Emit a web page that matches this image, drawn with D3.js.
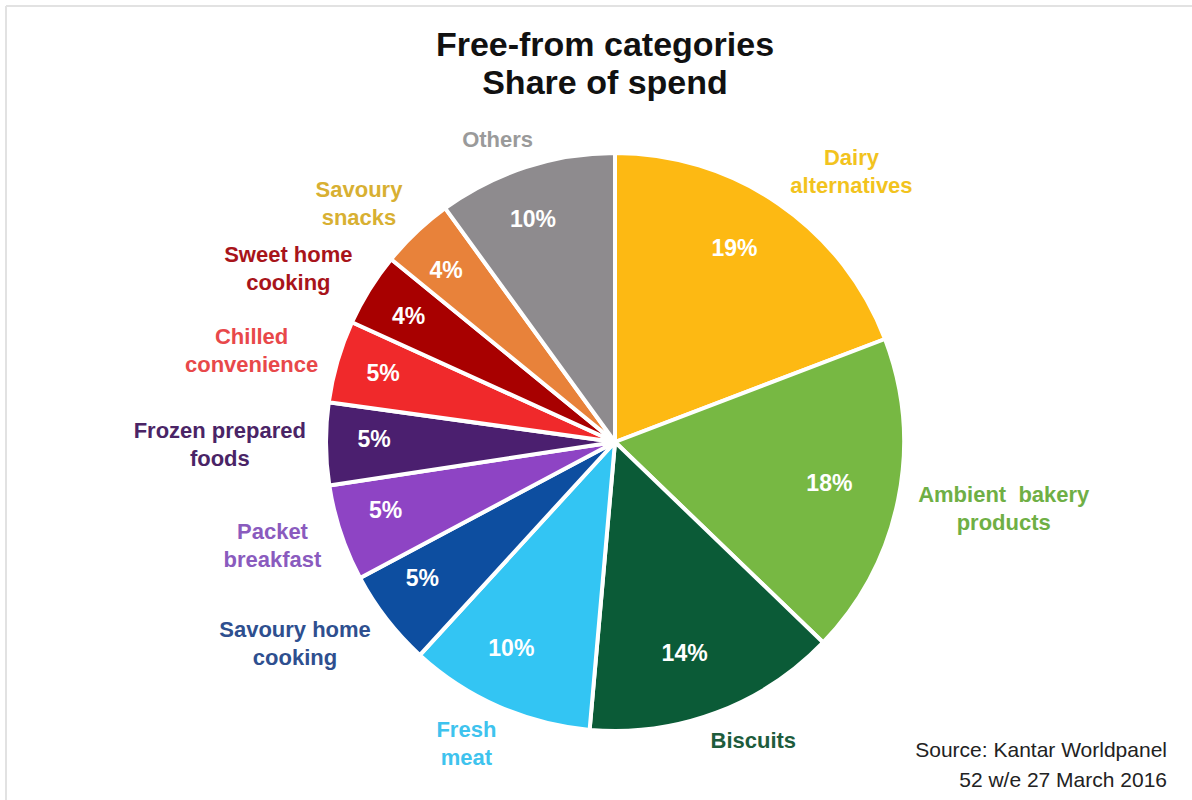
<!DOCTYPE html>
<html>
<head>
<meta charset="utf-8">
<script src="https://cdn.jsdelivr.net/npm/d3@7"></script>
<style>
  html, body { margin: 0; padding: 0; background: #fff; }
  svg { display: block; }
</style>
</head>
<body>
<svg id="chart" width="1192" height="800"></svg>
<script>
const categories = [
  ["Dairy", "alternatives"],
  ["Ambient  bakery", "products"],
  ["Biscuits"],
  ["Fresh", "meat"],
  ["Savoury home", "cooking"],
  ["Packet", "breakfast"],
  ["Frozen prepared", "foods"],
  ["Chilled", "convenience"],
  ["Sweet home", "cooking"],
  ["Savoury", "snacks"],
  ["Others"]
];
// underlying shares
const shares = [19.2, 18.0, 14.2, 10.4, 5.4, 5.4, 4.6, 4.6, 4.1, 4.1, 10.0];
// rounded percentages as printed on the slices
const pctLabels = [19, 18, 14, 10, 5, 5, 5, 5, 4, 4, 10];
const sliceColors = ["#FDB913", "#77B843", "#0B5B37", "#33C5F3", "#0D4EA0", "#8E44C4",
                     "#4B1F6F", "#F0292B", "#A80000", "#E8823A", "#8E8B8E"];
const labelColors = ["#F2C31E", "#6FAF45", "#1E5C3C", "#3EC3EE", "#2E4F8F", "#8A5BBE",
                     "#4A2466", "#E8484A", "#A8141A", "#D8B032", "#9A9A9A"];
const titleLines = ["Free-from categories", "Share of spend"];
const sourceLines = ["Source: Kantar Worldpanel", "52 w/e 27 March 2016"];

const svg = d3.select("#chart");
const W = 1192, H = 800;
const cx = 615, cy = 442, R = 289;

// faint frame lines (top & left)
svg.append("line").attr("x1", 6).attr("y1", 6).attr("x2", W).attr("y2", 6)
  .attr("stroke", "#e2e2e2").attr("stroke-width", 2);
svg.append("line").attr("x1", 6).attr("y1", 6).attr("x2", 6).attr("y2", H)
  .attr("stroke", "#e2e2e2").attr("stroke-width", 2);

// title
const title = svg.append("text").attr("text-anchor", "middle")
  .attr("font-family", "Liberation Sans, Arial, sans-serif")
  .attr("font-weight", "bold").attr("font-size", 34).attr("fill", "#111");
titleLines.forEach((t, i) => {
  title.append("tspan").attr("x", 605).attr("y", 56 + i * 38).text(t);
});

const data = shares.map((v, i) => ({ v, i }));
const pie = d3.pie().value(d => d.v).sort(null);
const arcs = pie(data);
const arc = d3.arc().innerRadius(0).outerRadius(R);

const g = svg.append("g").attr("transform", `translate(${cx},${cy})`);
g.selectAll("path.slice").data(arcs).enter().append("path")
  .attr("class", "slice")
  .attr("d", arc)
  .attr("fill", d => sliceColors[d.data.i])
  .attr("stroke", "#fff").attr("stroke-width", 4).attr("stroke-linejoin", "round");

// percentage labels (slightly offset up-left, as in the source graphic)
const pctArc = d3.arc().innerRadius(230).outerRadius(230);
const pctShift = [-11, -5];
g.selectAll("text.pct").data(arcs).enter().append("text")
  .attr("class", "pct")
  .attr("transform", d => {
    const [x, y] = pctArc.centroid(d);
    return `translate(${x + pctShift[0]},${y + pctShift[1]})`;
  })
  .attr("text-anchor", "middle").attr("dy", "0.36em")
  .attr("font-family", "Liberation Sans, Arial, sans-serif")
  .attr("font-weight", "bold").attr("font-size", 23).attr("fill", "#fff")
  .text(d => pctLabels[d.data.i] + "%");

// category labels outside
const fs = 22, lh = 28, gap = 20;
const clamp = v => Math.max(-1, Math.min(1, v));
arcs.forEach(d => {
  const lines = categories[d.data.i];
  const a = (d.startAngle + d.endAngle) / 2;
  const sx = Math.sin(a), sy = -Math.cos(a);
  const t = g.append("text").attr("text-anchor", "middle")
    .attr("font-family", "Liberation Sans, Arial, sans-serif")
    .attr("font-weight", "bold").attr("font-size", fs)
    .attr("fill", labelColors[d.data.i])
    .style("white-space", "pre");
  lines.forEach((l, k) => t.append("tspan").attr("x", 0).attr("dy", k === 0 ? 0 : lh).text(l));
  const bb = t.node().getBBox();
  const w = bb.width, h = lines.length * lh;
  const px = (R + gap) * sx, py = (R + gap) * sy;
  const ccx = px + clamp(sx * 2) * w / 2;
  const ccy = py + sy * h / 2 * 0.7;
  const firstBaseline = ccy - h / 2 + lh * 0.5 + fs * 0.36;
  t.attr("transform", `translate(${ccx},${firstBaseline})`);
});

// source
const src = svg.append("text").attr("text-anchor", "end")
  .attr("font-family", "Liberation Sans, Arial, sans-serif")
  .attr("font-size", 21).attr("fill", "#222");
sourceLines.forEach((t, i) => {
  src.append("tspan").attr("x", 1167).attr("y", 757 + i * 30).text(t);
});
</script>
</body>
</html>
